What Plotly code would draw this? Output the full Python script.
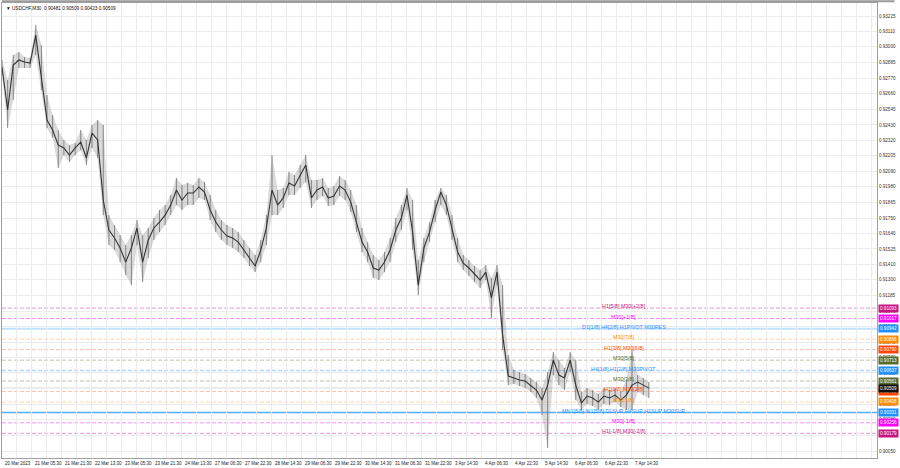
import plotly.graph_objects as go

# ---------------- data ----------------
symbol_title = "USDCHF,M30"
header_ohlc = [0.90481, 0.90509, 0.90423, 0.90509]
bid_price = 0.90509
bars_per_sample = 6  # each sample summarises 6 M30 bars

close = [0.92853, 0.92539, 0.92867, 0.92904, 0.92889, 0.92882, 0.93086, 0.92758, 0.92466, 0.92393,
         0.92283, 0.92262, 0.92210, 0.92262, 0.92305, 0.92189, 0.92371, 0.92320, 0.91882, 0.91663,
         0.91605, 0.91532, 0.91429, 0.91532, 0.91678, 0.91429, 0.91590, 0.91678, 0.91721, 0.91772,
         0.91845, 0.91955, 0.91882, 0.91933, 0.91933, 0.91977, 0.91940, 0.91809, 0.91721, 0.91663,
         0.91619, 0.91605, 0.91575, 0.91517, 0.91459, 0.91400, 0.91517, 0.91678, 0.91955, 0.91845,
         0.91897, 0.92006, 0.91984, 0.92057, 0.92137, 0.91897, 0.91955, 0.91977, 0.91897, 0.91911,
         0.91984, 0.91955, 0.91867, 0.91721, 0.91575, 0.91502, 0.91386, 0.91371, 0.91429, 0.91517,
         0.91663, 0.91751, 0.91918, 0.91648, 0.91261, 0.91532, 0.91648, 0.91809, 0.91940, 0.91845,
         0.91663, 0.91502, 0.91422, 0.91386, 0.91342, 0.91298, 0.91356, 0.91167, 0.91356, 0.90896,
         0.90597, 0.90583, 0.90568, 0.90561, 0.90531, 0.90495, 0.90422, 0.90531, 0.90714, 0.90604,
         0.90583, 0.90714, 0.90531, 0.90400, 0.90451, 0.90437, 0.90407, 0.90451, 0.90437, 0.90458,
         0.90422, 0.90458, 0.90531, 0.90553, 0.90531, 0.90509]

high = [0.92904, 0.92758, 0.92940, 0.92962, 0.92926, 0.92919, 0.93159, 0.93013, 0.92648, 0.92502,
        0.92393, 0.92320, 0.92283, 0.92298, 0.92393, 0.92320, 0.92429, 0.92466, 0.92429, 0.91772,
        0.91699, 0.91626, 0.91553, 0.91626, 0.91736, 0.91626, 0.91678, 0.91751, 0.91809, 0.91845,
        0.91918, 0.92043, 0.91991, 0.92006, 0.91991, 0.92043, 0.92013, 0.91918, 0.91809, 0.91736,
        0.91699, 0.91678, 0.91648, 0.91590, 0.91532, 0.91480, 0.91590, 0.91772, 0.92210, 0.91955,
        0.91970, 0.92086, 0.92064, 0.92137, 0.92210, 0.92028, 0.92028, 0.92043, 0.91970, 0.91984,
        0.92057, 0.92028, 0.91955, 0.91845, 0.91678, 0.91575, 0.91480, 0.91444, 0.91502, 0.91605,
        0.91751, 0.91845, 0.91970, 0.91882, 0.91444, 0.91605, 0.91721, 0.91882, 0.91970, 0.91918,
        0.91772, 0.91605, 0.91480, 0.91444, 0.91400, 0.91371, 0.91407, 0.91313, 0.91407, 0.91261,
        0.90750, 0.90641, 0.90626, 0.90612, 0.90583, 0.90553, 0.90510, 0.90626, 0.90772, 0.90714,
        0.90656, 0.90772, 0.90714, 0.90480, 0.90510, 0.90495, 0.90466, 0.90510, 0.90495, 0.90510,
        0.90480, 0.90568, 0.90787, 0.90604, 0.90583, 0.90553]

low = [0.92794, 0.92408, 0.92612, 0.92846, 0.92846, 0.92846, 0.92940, 0.92685, 0.92408, 0.92335,
       0.92116, 0.92210, 0.92159, 0.92210, 0.92247, 0.92137, 0.92262, 0.92189, 0.91772, 0.91553,
       0.91517, 0.91429, 0.91334, 0.91261, 0.91553, 0.91283, 0.91459, 0.91590, 0.91648, 0.91699,
       0.91772, 0.91845, 0.91809, 0.91845, 0.91845, 0.91897, 0.91882, 0.91736, 0.91648, 0.91590,
       0.91553, 0.91532, 0.91502, 0.91459, 0.91400, 0.91356, 0.91429, 0.91553, 0.91772, 0.91772,
       0.91824, 0.91918, 0.91918, 0.91970, 0.92013, 0.91824, 0.91882, 0.91911, 0.91838, 0.91845,
       0.91911, 0.91882, 0.91794, 0.91648, 0.91502, 0.91429, 0.91313, 0.91298, 0.91356, 0.91429,
       0.91575, 0.91663, 0.91809, 0.91517, 0.91188, 0.91429, 0.91575, 0.91721, 0.91845, 0.91772,
       0.91590, 0.91429, 0.91371, 0.91327, 0.91283, 0.91240, 0.91298, 0.91021, 0.91261, 0.90787,
       0.90531, 0.90539, 0.90524, 0.90510, 0.90480, 0.90437, 0.90312, 0.90072, 0.90604, 0.90531,
       0.90495, 0.90626, 0.90422, 0.90349, 0.90393, 0.90378, 0.90349, 0.90393, 0.90385, 0.90407,
       0.90371, 0.90349, 0.90349, 0.90480, 0.90458, 0.90437]

price_ticks = [0.93225, 0.93110, 0.93000, 0.92885, 0.92770, 0.92660, 0.92545, 0.92430, 0.92320,
               0.92205, 0.92090, 0.91980, 0.91865, 0.91750, 0.91640, 0.91525, 0.91410, 0.91300,
               0.91185, 0.91070, 0.90960, 0.90845, 0.90730, 0.90620, 0.90505, 0.90390, 0.90280,
               0.90165, 0.90050]

time_labels = ["20 Mar 2023", "21 Mar 05:30", "21 Mar 21:30", "22 Mar 13:30", "23 Mar 05:30",
               "23 Mar 21:30", "24 Mar 13:30", "27 Mar 06:30", "27 Mar 22:30", "28 Mar 14:30",
               "29 Mar 06:30", "29 Mar 22:30", "30 Mar 14:30", "31 Mar 06:30", "31 Mar 22:30",
               "3 Apr 14:30", "4 Apr 06:30", "4 Apr 22:30", "5 Apr 14:30", "6 Apr 06:30",
               "6 Apr 22:30", "7 Apr 14:30"]

level_values = [0.91093, 0.91017, 0.90942, 0.90866, 0.90790, 0.90713, 0.90637,
                0.90561, 0.90485, 0.90408, 0.90331, 0.90256, 0.90179]
level_texts = ["H1[5/8] M30[+2/8]", "M30[+1/8]", "D1[1/8] H4[2/8] H1PIVOT M30RES", "M30[7/8]",
               "H1[3/8] M30[6/8]", "M30[5/8]", "H4[1/8] H1[2/8] M30PIVOT", "M30[3/8]",
               "H1[1/8] M30[2/8]", "M30[1/8]", "MN1[5/8] W1[5/8] D1SUP H4SUP H1SUP M30SUP",
               "M30[-1/8]", "H1[-1/8] M30[-2/8]"]
level_colors = ["#C71585", "#FF00FF", "#1E90FF", "#FF8C00", "#FF4500", "#556B2F", "#1E90FF",
                "#556B2F", "#FF4500", "#FF8C00", "#1E90FF", "#FF00FF", "#C71585"]
level_line_colors = ["rgba(199,21,133,0.45)", "rgba(255,0,255,0.45)", "rgba(30,144,255,0.28)",
                     "rgba(255,140,0,0.35)", "rgba(255,69,0,0.35)", "rgba(85,107,47,0.40)",
                     "rgba(30,144,255,0.35)", "rgba(85,107,47,0.40)", "rgba(255,69,0,0.35)",
                     "rgba(255,140,0,0.35)", "rgba(30,144,255,0.75)", "rgba(255,0,255,0.45)",
                     "rgba(199,21,133,0.45)"]
level_line_dash = ["4px,2px", "4px,2px", "solid", "4px,2px", "4px,2px", "4px,2px", "4px,2px",
                   "4px,2px", "4px,2px", "4px,2px", "solid", "4px,2px", "4px,2px"]
level_line_width = [1, 1, 2, 1, 1, 1, 1.5, 1, 1, 1, 1.3, 1, 1]

# ---------------- figure ----------------
FONT = "Liberation Sans, Arial, sans-serif"
x = [i * bars_per_sample for i in range(len(close))]

fig = go.Figure()
# high-low band
fig.add_trace(go.Scatter(x=x, y=low, mode="lines", line=dict(width=0),
                         hoverinfo="skip", showlegend=False))
fig.add_trace(go.Scatter(x=x, y=high, mode="lines", line=dict(width=0), fill="tonexty",
                         fillcolor="rgba(150,150,150,0.35)", hoverinfo="skip", showlegend=False))
# wicks
wx, wy = [], []
for xi, h, l in zip(x, high, low):
    wx += [xi, xi, None]
    wy += [l, h, None]
fig.add_trace(go.Scatter(x=wx, y=wy, mode="lines", line=dict(color="rgba(110,110,110,0.8)", width=1),
                         hoverinfo="skip", showlegend=False))
# close path
fig.add_trace(go.Scatter(x=x, y=close, mode="lines", line=dict(color="#333333", width=1.1),
                         showlegend=False))

shapes = []
annotations = []

# level lines, labels and price boxes
label_x = 663
for v, t, c, lc, dsh, lw in zip(level_values, level_texts, level_colors, level_line_colors,
                                level_line_dash, level_line_width):
    shapes.append(dict(type="line", xref="paper", x0=0, x1=1, yref="y", y0=v, y1=v,
                       line=dict(color=lc, width=lw, dash=dsh), layer="below"))
    annotations.append(dict(x=label_x, y=v, xref="x", yref="y", text=t, showarrow=False,
                            xanchor="center", yanchor="middle", yshift=2,
                            font=dict(family=FONT, size=5.4, color=c)))
    annotations.append(dict(x=1, y=v, xref="paper", yref="y", text=f"{v:.5f}", showarrow=False,
                            xanchor="left", yanchor="middle", xshift=1,
                            font=dict(family=FONT, size=4.6, color="white"),
                            bgcolor=c, borderpad=1))

# bid line and box
shapes.append(dict(type="line", xref="paper", x0=0, x1=1, yref="y", y0=bid_price, y1=bid_price,
                   line=dict(color="rgba(150,150,150,0.5)", width=1), layer="below"))
annotations.append(dict(x=1, y=bid_price, xref="paper", yref="y", text=f"{bid_price:.5f}",
                        showarrow=False, xanchor="left", yanchor="middle", xshift=1,
                        font=dict(family=FONT, size=4.6, color="white"),
                        bgcolor="#111111", borderpad=1))

# time labels (left aligned at grid lines)
label_step = 32
for j, lab in enumerate(time_labels):
    xv = 0 if j == 0 else 31.7 + label_step * (j - 1)
    annotations.append(dict(x=xv, y=0, xref="x", yref="paper", text=lab, showarrow=False,
                            xanchor="left", yanchor="top", yshift=-1, xshift=1,
                            font=dict(family=FONT, size=4.5, color="#222222")))

# header
annotations.append(dict(x=0, y=1, xref="paper", yref="paper",
                        text="\u25BC " + symbol_title + "  " + " ".join(f"{p:.5f}" for p in header_ohlc),
                        showarrow=False, xanchor="left", yanchor="top", xshift=2, yshift=-1,
                        font=dict(family=FONT, size=4.7, color="#111111")))

# top window border
shapes.append(dict(type="line", xref="paper", yref="paper", x0=0, x1=1.02, y0=1.004, y1=1.004,
                   line=dict(color="#9a9a9a", width=2)))

grid_vals = [15.7 + 16 * m for m in range(60)]

fig.update_layout(
    width=900, height=468,
    margin=dict(l=2, r=23, t=3, b=10),
    paper_bgcolor="white", plot_bgcolor="white",
    shapes=shapes, annotations=annotations,
    showlegend=False,
    xaxis=dict(range=[0, 933.3], tickvals=grid_vals, showticklabels=False, ticks="",
               showgrid=True, gridcolor="#ececec", gridwidth=1, zeroline=False,
               showline=True, mirror=True, linecolor="#a0a0a0", linewidth=1, fixedrange=True),
    yaxis=dict(range=[0.89999, 0.93320], side="right", tickvals=price_ticks,
               ticktext=[f"{p:.5f}" for p in price_ticks], ticks="",
               tickfont=dict(family=FONT, size=4.6, color="#333333"),
               showgrid=True, gridcolor="#ececec", gridwidth=1, zeroline=False,
               showline=True, mirror=True, linecolor="#a0a0a0", linewidth=1, fixedrange=True),
)

fig.write_html("out.html",
               config={"displayModeBar": False, "staticPlot": True},
               post_script="document.body.style.margin='0';document.body.style.padding='0';"
                           "document.body.style.overflow='hidden';")
